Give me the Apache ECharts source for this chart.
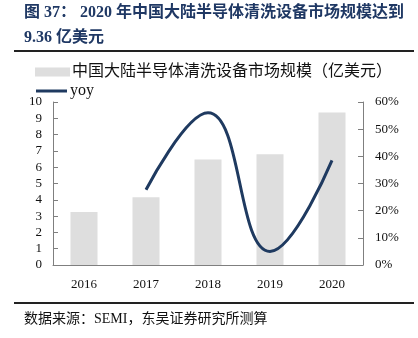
<!DOCTYPE html>
<html><head><meta charset="utf-8">
<script src="https://cdn.jsdelivr.net/npm/echarts@6/dist/echarts.min.js"></script>
<style>html,body{margin:0;padding:0;background:#fff}#c{width:418px;height:338px}</style>
</head><body><div id="c"></div>
<script>
var categories = ['2016','2017','2018','2019','2020'];
var marketSize = [3.25, 4.15, 6.48, 6.8, 9.36];
var yoy = [null, 27.7, 56, 5, 38.5];
var leftTicks = [0,1,2,3,4,5,6,7,8,9,10];
var rightTicks = ['0%','10%','20%','30%','40%','50%','60%'];
var barName = '中国大陆半导体清洗设备市场规模（亿美元）';
var lineName = 'yoy';
var titleLine1 = '图 37： 2020 年中国大陆半导体清洗设备市场规模达到';
var titleLine2 = '9.36 亿美元';
var sourceText = '数据来源：SEMI，东吴证券研究所测算';

var serif = '"Liberation Serif","Noto Sans CJK SC",serif';
var chart = echarts.init(document.getElementById('c'));
chart.setOption({
  animation: false,
  backgroundColor: '#fff',
  graphic: [
    {type:'text', left:24, top:5, style:{text:titleLine1, font:'bold 16px '+serif, fill:'#1F3864'}},
    {type:'text', left:24, top:30, style:{text:titleLine2, font:'bold 16px '+serif, fill:'#1F3864'}},
    {type:'rect', shape:{x:14, y:50, width:400, height:2}, style:{fill:'#222'}},
    {type:'rect', shape:{x:14, y:302, width:400, height:2}, style:{fill:'#222'}},
    {type:'text', left:24, top:312, style:{text:sourceText, font:'14px '+serif, fill:'#111'}}
  ],
  legend: [
    {data:[{name:barName, icon:'rect'}], left:35, top:64, padding:0, itemWidth:35, itemHeight:9, itemGap:0,
     textStyle:{fontFamily:serif, fontSize:16, color:'#111', padding:[0,0,0,-3]}},
    {data:[{name:lineName, icon:'rect'}], left:36, top:83, padding:0, itemWidth:31, itemHeight:3,
     textStyle:{fontFamily:serif, fontSize:16, color:'#111', padding:[0,0,6,-2]}}
  ],
  grid: {left:53, right:55, top:102, bottom:73},
  xAxis: {
    type:'category', data:categories,
    axisLine:{lineStyle:{color:'#7f7f7f'}},
    axisTick:{inside:true, length:5, alignWithLabel:false, lineStyle:{color:'#7f7f7f'}},
    axisLabel:{fontFamily:serif, fontSize:13, color:'#111', margin:13}
  },
  yAxis: [
    {type:'value', min:0, max:10, interval:1, splitLine:{show:false},
     axisLine:{show:true, lineStyle:{color:'#7f7f7f'}},
     axisTick:{show:true, inside:true, length:5, lineStyle:{color:'#7f7f7f'}},
     axisLabel:{fontFamily:serif, fontSize:13, color:'#111', margin:11,
       formatter:function(v){return leftTicks.indexOf(v)>=0 ? String(v) : '';}}},
    {type:'value', min:0, max:60, interval:10, splitLine:{show:false},
     axisLine:{show:true, lineStyle:{color:'#7f7f7f'}},
     axisTick:{show:true, inside:true, length:5, lineStyle:{color:'#7f7f7f'}},
     axisLabel:{fontFamily:serif, fontSize:13, color:'#111', margin:12,
       formatter:function(v){return rightTicks[Math.round(v/10)];}}}
  ],
  series: [
    {name:barName, type:'bar', data:marketSize, barWidth:27, yAxisIndex:0,
     itemStyle:{color:'#DEDEDE'}},
    {name:lineName, type:'line', data:yoy, yAxisIndex:1, smooth:0.45, showSymbol:false,
     symbol:'none', lineStyle:{color:'#1F3A60', width:3}, itemStyle:{color:'#1F3A60'}}
  ]
});
</script></body></html>
